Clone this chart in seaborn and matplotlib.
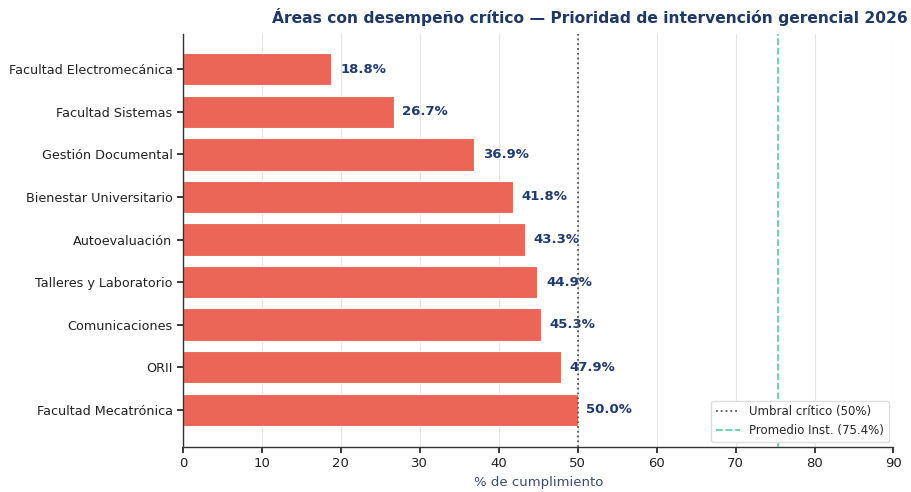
import matplotlib
matplotlib.use("Agg")
import matplotlib.pyplot as plt
import seaborn as sns
import pandas as pd

areas = ["Facultad Electromecánica", "Facultad Sistemas", "Gestión Documental",
         "Bienestar Universitario", "Autoevaluación", "Talleres y Laboratorio",
         "Comunicaciones", "ORII", "Facultad Mecatrónica"]
valores = [18.8, 26.7, 36.9, 41.8, 43.3, 44.9, 45.3, 47.9, 50.0]
umbral = 50
promedio = 75.4

sns.set_theme(style="white")
plt.rcParams['font.family'] = ['DejaVu Sans']

df = pd.DataFrame({"area": areas, "valor": valores})

fig = plt.figure(figsize=(9.12, 4.92), dpi=100)
ax = fig.add_axes([0.2007, 0.092, 0.779, 0.838])

sns.barplot(data=df, x="valor", y="area", color="#EB6657", saturation=1,
            width=0.76, edgecolor="white", linewidth=0.8, ax=ax, zorder=2)

for i, v in enumerate(valores):
    ax.text(v + 1.1, i, f"{v:.1f}%", va="center", ha="left",
            fontsize=9.5, fontweight="bold", color="#1F3A6E", zorder=3)

ax.axvline(umbral, color="#555555", linestyle=":", linewidth=1.3,
           label="Umbral crítico (50%)", zorder=3)
ax.axvline(promedio, color="#5DD39E", linestyle="--", linewidth=1.3,
           label="Promedio Inst. (75.4%)", zorder=3)

ax.set_xlim(0, 90)
ax.set_ylim(8.87, -0.82)
ax.set_xticks(range(0, 91, 10))
ax.set_ylabel("")
ax.set_xlabel("% de cumplimiento", color="#3B4A6B", fontsize=9.5)
ax.tick_params(axis="x", labelsize=9.5, colors="#222222", length=4, bottom=True)
ax.tick_params(axis="y", labelsize=9.2, colors="#222222", length=4, left=True)
ax.xaxis.grid(True, color="#E6E6E6", linewidth=0.8, zorder=0)
ax.set_axisbelow(True)
for s in ["top", "right"]:
    ax.spines[s].set_visible(False)
for s in ["left", "bottom"]:
    ax.spines[s].set_color("#333333")
    ax.spines[s].set_linewidth(1.0)

leg = ax.legend(loc="lower right", fontsize=8.5, frameon=True, framealpha=1,
                borderaxespad=0.4)
leg.get_frame().set_edgecolor("#DDDDDD")

fig.text(0.995, 0.965, "Áreas con desempeño crítico — Prioridad de intervención gerencial 2026",
         ha="right", va="center", fontsize=11.2, fontweight="bold", color="#1F3864")

fig.savefig("out.png", dpi=100)
